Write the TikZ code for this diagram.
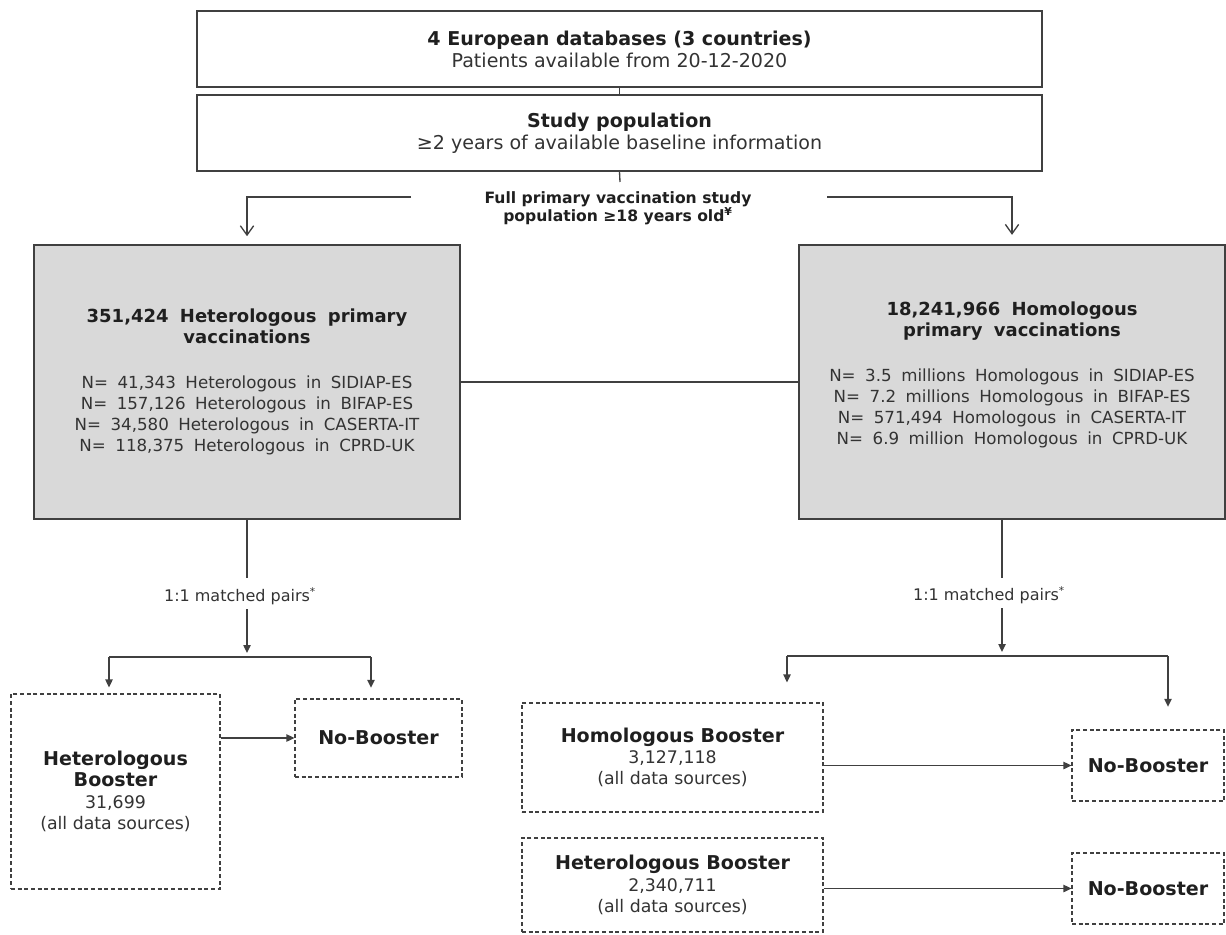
\documentclass[tikz,border=0pt]{standalone}
\usepackage{fontspec}
\setmainfont{DejaVu Sans}
\newfontfamily\spacedfont{DejaVu Sans}[WordSpace=1.8]
\usetikzlibrary{arrows.meta}
\usetikzlibrary{calc}
\definecolor{boxline}{HTML}{404040}
\definecolor{greyfill}{HTML}{D9D9D9}
\definecolor{textgrey}{HTML}{333333}
\colorlet{headtext}{black!88}
\newcommand{\hd}[1]{{\color{headtext}\bfseries #1}}
\tikzset{
    topbox/.style={draw=boxline, line width=1.2pt, minimum width=633.75pt, minimum height=57pt,
        align=center, text=textgrey, font=\fontsize{14.3}{16.5}\selectfont},
    greybox/.style={draw=boxline, line width=1.2pt, fill=greyfill, minimum width=319.5pt,
        minimum height=205.5pt, align=center, text=textgrey,
        font=\spacedfont\fontsize{12.5}{15.75}\selectfont},
    dashbox/.style={draw=boxline, dash pattern=on 3pt off 2pt, line width=0.8pt, align=center,
        text=textgrey, font=\fontsize{13}{16}\selectfont},
    link/.style={draw=boxline, line width=1pt},
    openarrow/.style={link, -{Straight Barb[length=7pt,width=10pt]}},
    fillarrow/.style={link, -{Triangle[length=6pt,width=5.5pt]}}
}

\begin{document}
\begin{tikzpicture}[x=0.75pt, y=-0.75pt]
        \useasboundingbox (0,0) rectangle (1226,934);
        % top boxes
        \node[topbox] (db) at (619.5,49)
            {\hd{4 European databases (3 countries)}\\Patients available from 20-12-2020};
        \node[topbox] (studypop) at (619.5,133)
            {\hd{Study population}\\≥2 years of available baseline information};
        \node[align=center, text=headtext, font=\fontsize{11.7}{13.5}\selectfont\bfseries] (fullpop) at (618,208)
            {Full primary vaccination study\\population ≥18 years old\textsuperscript{¥}};
        % primary vaccination boxes
        \node[greybox] (hetero) at (247,382)
            {{\fontsize{13.5}{15.75}\selectfont\hd{351,424 Heterologous primary}}\\
             {\fontsize{13.5}{15.75}\selectfont\hd{vaccinations}}\\[18pt]
             N= 41,343 Heterologous in SIDIAP-ES\\
             N= 157,126 Heterologous in BIFAP-ES\\
             N= 34,580 Heterologous in CASERTA-IT\\
             N= 118,375 Heterologous in CPRD-UK};
        \node[greybox] (homo) at (1012,382)
            {{\fontsize{13.5}{15.75}\selectfont\hd{18,241,966 Homologous}}\\
             {\fontsize{13.5}{15.75}\selectfont\hd{primary vaccinations}}\\[18pt]
             N= 3.5 millions Homologous in SIDIAP-ES\\
             N= 7.2 millions Homologous in BIFAP-ES\\
             N= 571,494 Homologous in CASERTA-IT\\
             N= 6.9 million Homologous in CPRD-UK\\[-2pt]};
        % matching labels
        \node[text=textgrey, font=\fontsize{12}{14}\selectfont] (pairsL) at (240,596) {1:1 matched pairs\textsuperscript{*}};
        \node[text=textgrey, font=\fontsize{12}{14}\selectfont] (pairsR) at (989,595) {1:1 matched pairs\textsuperscript{*}};
        % booster boxes
        \node[dashbox, minimum width=156.75pt, minimum height=146.25pt] (lboost) at (115.5,791.5)
            {\hd{\fontsize{14.3}{16.5}\selectfont Heterologous}\\\hd{\fontsize{14.3}{16.5}\selectfont Booster}\\31,699\\(all data sources)};
        \node[dashbox, minimum width=125.25pt, minimum height=58.5pt] (lno) at (378.5,738)
            {\hd{\fontsize{14.3}{16.5}\selectfont No-Booster}};
        \node[dashbox, minimum width=225.75pt, minimum height=81.75pt] (homb) at (672.5,757.5)
            {\hd{\fontsize{14.3}{16}\selectfont Homologous Booster}\\3,127,118\\(all data sources)};
        \node[dashbox, minimum width=225.75pt, minimum height=70.5pt] (hetbR) at (672.5,885)
            {\hd{\fontsize{14.3}{16}\selectfont Heterologous Booster}\\2,340,711\\(all data sources)};
        \node[dashbox, minimum width=114pt, minimum height=53.25pt] (nobR1) at (1148,765.5)
            {\hd{\fontsize{14.3}{16.5}\selectfont No-Booster}};
        \node[dashbox, minimum width=114pt, minimum height=53.25pt] (nobR2) at (1148,888.5)
            {\hd{\fontsize{14.3}{16.5}\selectfont No-Booster}};
        % branch points
        \coordinate (popend) at (620,182);
        \coordinate (brL) at (411,197);
        \coordinate (brR) at (827,197);
        \coordinate (pL) at (247,578);
        \coordinate (splitL) at (247,657);
        \coordinate (hL) at (109,657);
        \coordinate (nL) at (371,657);
        \coordinate (pR) at (1002,578);
        \coordinate (splitR) at (1002,656);
        \coordinate (hR) at (787,656);
        \coordinate (nR) at (1168,656);
        % connectors: top part
        \draw[link] (db) -- (studypop);
        \draw[link] (studypop.south) -- (popend);
        \draw[openarrow, shorten >=6pt] (brL) -| (hetero.north);
        \draw[openarrow, shorten >=7pt] (brR) -| (homo.north);
        \draw[link] (hetero) -- (homo);
        % connectors: heterologous side
        \draw[link] (hetero.south) -- (pL);
        \draw[fillarrow, shorten >=3pt] (pairsL.south -| splitL) -- (splitL);
        \draw[link] (hL) -- (nL);
        \draw[fillarrow, shorten >=4.5pt] (hL) -- (hL |- lboost.north);
        \draw[fillarrow, shorten >=8pt] (nL) -- (nL |- lno.north);
        \draw[fillarrow] (lboost.east |- lno.west) -- (lno.west);
        % connectors: homologous side
        \draw[link] (homo.south -| pR) -- (pR);
        \draw[fillarrow, shorten >=3pt] (pairsR.south -| splitR) -- (splitR);
        \draw[link] (hR) -- (nR);
        \draw[fillarrow, shorten >=15pt] (hR) -- (hR |- homb.north);
        \draw[fillarrow, shorten >=17pt] (nR) -- (nR |- nobR1.north);
        \draw[fillarrow] (homb.east |- nobR1.west) -- (nobR1.west);
        \draw[fillarrow] (hetbR.east |- nobR2.west) -- (nobR2.west);
    \end{tikzpicture}
\end{document}
